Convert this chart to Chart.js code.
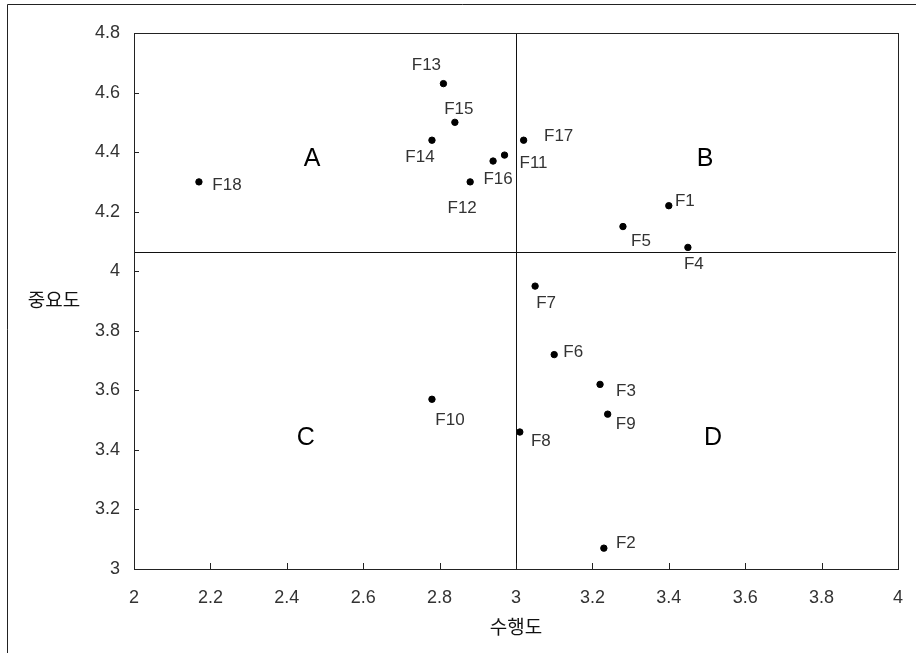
<!DOCTYPE html>
<html>
<head>
<meta charset="utf-8">
<script src="https://cdn.jsdelivr.net/npm/chart.js@4"></script>
<style>
  html, body { margin: 0; padding: 0; background: #fff; }
  #wrap { width: 916px; height: 653px; }
</style>
</head>
<body>
<div id="wrap"><canvas id="grafico" width="916" height="653"></canvas></div>
<script>
// dados
const nomes = ["F1","F2","F3","F4","F5","F6","F7","F8","F9","F10","F11","F12","F13","F14","F15","F16","F17","F18"];
const desempenho = [3.40,3.23,3.22,3.45,3.28,3.10,3.05,3.01,3.24,2.78,2.97,2.88,2.81,2.78,2.84,2.94,3.02,2.17];
const importancia = [4.22,3.07,3.62,4.08,4.15,3.72,3.95,3.46,3.52,3.57,4.39,4.30,4.63,4.44,4.50,4.37,4.44,4.30];
// deslocamento dos rótulos (px)
const offX = [16,22,26,6,18,19,11,21,18,18,29,-8,-17,-12,4,5,35,28];
const offY = [-4,-5,7,17,15,-2,17,9,10,21,8,26,-18,17,-13,18,-4,3];

const mediaX = 3.0;
const mediaY = 4.066;
const quadrantes = [
  {t:"A", x:2.466, y:4.377},
  {t:"B", x:3.495, y:4.377},
  {t:"C", x:2.450, y:3.440},
  {t:"D", x:3.516, y:3.440}
];

const fonte = "'Liberation Sans', Arial, sans-serif";
const fonteKr = "'Noto Sans CJK KR', sans-serif";

const extras = {
  id: "extras",
  afterDraw(chart){
    const c = chart.ctx, a = chart.chartArea;
    const sx = chart.scales.x, sy = chart.scales.y;
    c.save();
    // moldura externa
    c.strokeStyle = "#222"; c.lineWidth = 1;
    c.beginPath();
    c.moveTo(7.5, 660); c.lineTo(7.5, 4.5); c.lineTo(920, 4.5);
    c.stroke();
    // linhas médias
    c.strokeStyle = "#111";
    c.beginPath();
    const px = Math.round(sx.getPixelForValue(mediaX)) + 0.5;
    c.moveTo(px, a.top); c.lineTo(px, a.bottom);
    const py = Math.round(sy.getPixelForValue(mediaY)) + 0.5;
    c.moveTo(a.left, py); c.lineTo(a.right - 2, py);
    c.stroke();
    // borda da área
    c.strokeStyle = "#222";
    c.strokeRect(Math.round(a.left)+0.5, Math.round(a.top)+0.5, Math.round(a.right-a.left), Math.round(a.bottom-a.top));
    // ticks para dentro
    c.beginPath();
    sx.ticks.forEach(t => {
      const x = Math.round(sx.getPixelForValue(t.value)) + 0.5;
      c.moveTo(x, a.bottom); c.lineTo(x, a.bottom - 6);
    });
    sy.ticks.forEach(t => {
      const y = Math.round(sy.getPixelForValue(t.value)) + 0.5;
      c.moveTo(a.left, y); c.lineTo(a.left + 5, y);
    });
    c.stroke();
    // rótulos dos pontos
    c.fillStyle = "#333";
    c.font = "17px " + fonte;
    c.textAlign = "center"; c.textBaseline = "middle";
    nomes.forEach((n,i) => {
      const x = sx.getPixelForValue(desempenho[i]);
      const y = sy.getPixelForValue(importancia[i]);
      c.fillText(n, x + offX[i], y + offY[i]);
    });
    // quadrantes
    c.fillStyle = "#000";
    c.font = "25px " + fonte;
    quadrantes.forEach(q => {
      c.fillText(q.t, sx.getPixelForValue(q.x), sy.getPixelForValue(q.y));
    });
    // títulos dos eixos
    c.fillStyle = "#111";
    c.font = "19px " + fonteKr;
    c.fillText("중요도", 54, 300);
    c.fillText("수행도", 516, 627);
    c.restore();
  }
};

const fmt = v => String(Math.round(v * 10) / 10);

new Chart(document.getElementById("grafico").getContext("2d"), {
  type: "scatter",
  data: {
    datasets: [{
      data: desempenho.map((v,i) => ({x:v, y:importancia[i]})),
      backgroundColor: "#000",
      borderColor: "#000",
      pointRadius: 3.2,
      pointHoverRadius: 3.2
    }]
  },
  options: {
    responsive: false,
    animation: false,
    layout: { padding: { left: 0, top: 33, right: 18, bottom: 0 } },
    plugins: { legend: { display: false }, tooltip: { enabled: false } },
    scales: {
      x: {
        type: "linear", min: 2, max: 4,
        ticks: { stepSize: 0.2, color: "#333", padding: 18, font: { family: fonte, size: 18 }, callback: fmt },
        grid: { display: false, drawTicks: false },
        border: { display: false },
        afterFit(s){ s.height = 84; s.paddingLeft = 0; s.paddingRight = 0; }
      },
      y: {
        type: "linear", min: 3, max: 4.8,
        ticks: { stepSize: 0.2, color: "#333", padding: 14, font: { family: fonte, size: 18 }, callback: fmt },
        grid: { display: false, drawTicks: false },
        border: { display: false },
        afterFit(s){ s.width = 134; s.paddingTop = 0; s.paddingBottom = 0; }
      }
    }
  },
  plugins: [extras]
});
</script>
</body>
</html>
